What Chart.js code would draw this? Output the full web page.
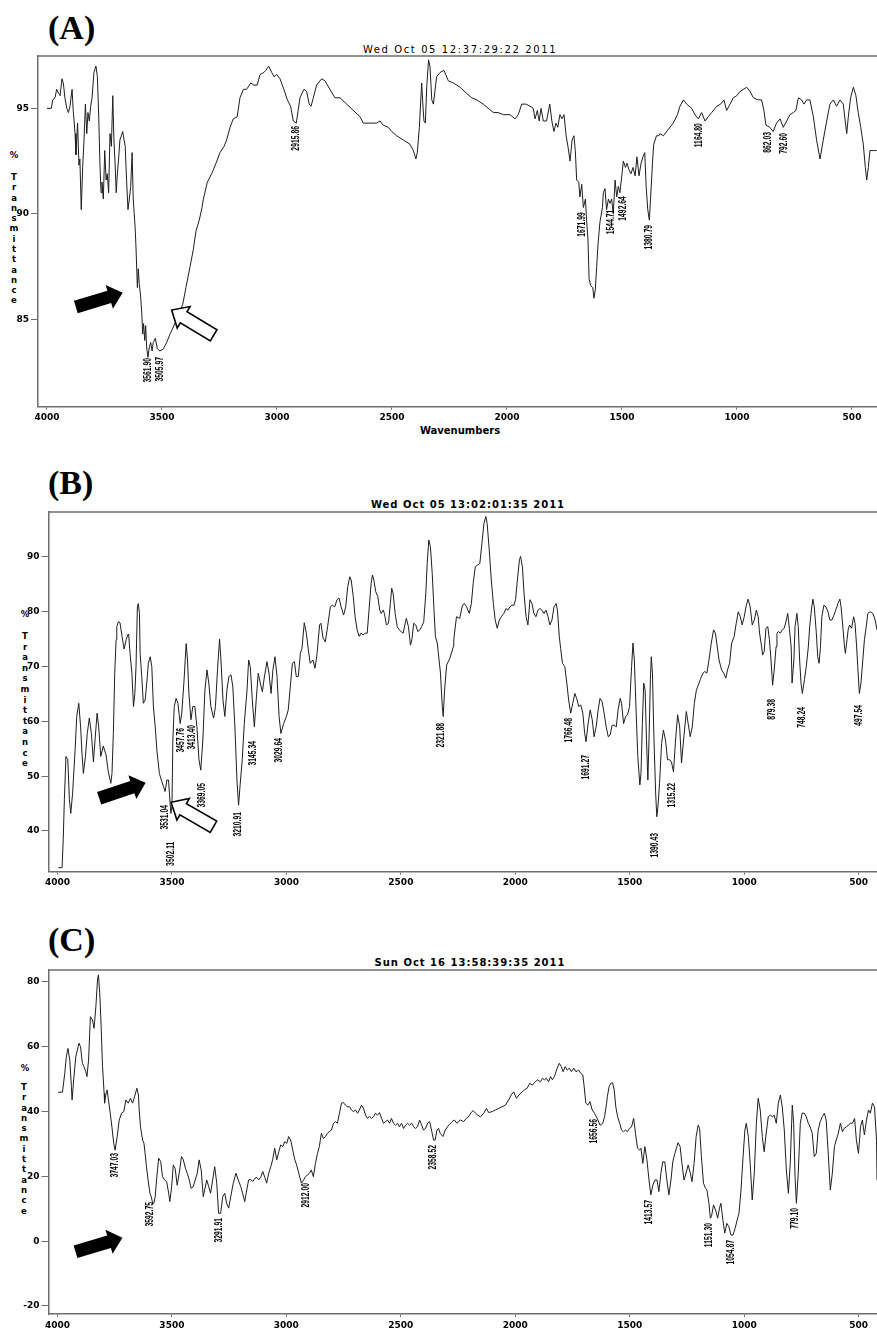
<!DOCTYPE html>
<html><head><meta charset="utf-8">
<script src="https://cdn.jsdelivr.net/npm/chart.js@4.4.1/dist/chart.umd.min.js"></script>
<style>
html,body{margin:0;padding:0;background:#fff;}
body{width:877px;height:1331px;position:relative;overflow:hidden;}
canvas{position:absolute;left:0;}
.plab{position:absolute;font-family:"Liberation Serif","Times New Roman",serif;font-weight:bold;font-size:34px;line-height:34px;color:#000;white-space:nowrap;}
.title{position:absolute;width:400px;text-align:center;font-family:"DejaVu Sans",Verdana,sans-serif;font-weight:bold;font-size:10px;line-height:10px;letter-spacing:1px;color:#000;white-space:nowrap;}
.xlab{position:absolute;width:200px;text-align:center;font-family:"DejaVu Sans",Verdana,sans-serif;font-weight:bold;font-size:10px;line-height:10px;color:#000;}
.ylab{position:absolute;width:12px;text-align:center;font-family:"DejaVu Sans",Verdana,sans-serif;font-weight:bold;font-size:8.5px;color:#000;}
</style></head>
<body>
<div class="plab" style="left:48px;top:11px;">(A)</div>
<div class="title" style="left:260px;top:45px;font-weight:normal;letter-spacing:1.6px;">Wed Oct 05 12:37:29:22 2011</div>
<div class="ylab" style="left:8px;top:150px;line-height:10px;">%</div>
<div class="ylab" style="left:8px;top:172px;line-height:10.28px;">T<br>r<br>a<br>n<br>s<br>m<br>i<br>t<br>t<br>a<br>n<br>c<br>e</div>
<div class="xlab" style="left:360px;top:426px;">Wavenumbers</div>
<canvas id="cA" width="877" height="445" style="top:0px"></canvas>

<div class="plab" style="left:48px;top:466px;">(B)</div>
<div class="title" style="left:268px;top:500px;">Wed Oct 05 13:02:01:35 2011</div>
<div class="ylab" style="left:19px;top:609px;line-height:10px;">%</div>
<div class="ylab" style="left:19px;top:631px;line-height:10.6px;">T<br>r<br>a<br>n<br>s<br>m<br>i<br>t<br>t<br>a<br>n<br>c<br>e</div>
<canvas id="cB" width="877" height="450" style="top:445px"></canvas>

<div class="plab" style="left:48px;top:923px;">(C)</div>
<div class="title" style="left:270px;top:958px;">Sun Oct 16 13:58:39:35 2011</div>
<div class="ylab" style="left:19px;top:1063px;line-height:10px;">%</div>
<div class="ylab" style="left:18px;top:1082px;line-height:10.3px;">T<br>r<br>a<br>n<br>s<br>m<br>i<br>t<br>t<br>a<br>n<br>c<br>e</div>
<canvas id="cC" width="877" height="436" style="top:895px"></canvas>

<script>
// ---------- tick labels ----------
const ticksX = [4000,3500,3000,2500,2000,1500,1000,500];
const ticksYA = [85,90,95];
const ticksYB = [40,50,60,70,80,90];
const ticksYC = [-20,0,20,40,60,80];

// ---------- spectrum (A) ----------
const wnA = [4000,3981,3975,3965,3958,3949,3943,3935,3929,3922,3914,3907,3900,3891,3886,3878,3874,3867,3861,3857,3851,3845,3839,3833,3827,3822,3816,3810,3804,3796,3787,3781,3775,3770,3765,3761,3755,3749,3743,3738,3732,3726,3720,3714,3709,3704,3699,3694,3688,3683,3677,3671,3665,3660,3654,3648,3642,3636,3630,3625,3619,3617,3613,3607,3603,3599,3593,3588,3584,3580,3575,3571,3567,3561,3555,3549,3543,3538,3529,3520,3509,3494,3480,3465,3448,3429,3410,3396,3378,3364,3352,3338,3326,3320,3303,3284,3265,3248,3230,3219,3204,3190,3173,3161,3146,3132,3114,3100,3086,3074,3057,3048,3036,3023,3013,3001,2987,2970,2955,2941,2929,2916,2908,2900,2883,2871,2860,2852,2842,2828,2806,2791,2770,2748,2726,2697,2668,2639,2625,2596,2567,2552,2538,2516,2501,2480,2451,2422,2407,2396,2390,2381,2371,2367,2361,2355,2349,2341,2335,2327,2320,2306,2291,2274,2255,2233,2204,2175,2153,2132,2103,2059,2038,2016,1987,1965,1951,1936,1917,1900,1886,1878,1868,1860,1852,1842,1828,1814,1805,1796,1787,1779,1770,1761,1752,1743,1735,1726,1717,1709,1703,1697,1688,1683,1675,1668,1659,1654,1648,1643,1636,1627,1622,1616,1610,1604,1596,1585,1581,1574,1567,1559,1552,1545,1538,1530,1523,1516,1509,1501,1494,1485,1478,1470,1461,1452,1443,1435,1426,1417,1409,1401,1395,1388,1381,1376,1373,1367,1362,1350,1340,1335,1320,1299,1277,1259,1248,1233,1219,1197,1183,1168,1154,1139,1125,1110,1088,1071,1057,1045,1030,1016,1001,987,972,958,943,929,907,893,883,874,857,843,828,813,799,784,770,755,744,733,719,709,697,683,668,654,639,625,610,596,581,567,552,538,523,516,506,494,483,473,462,451,442,436,429,422,407,393];
const tA = [95.0,95.0,95.4,95.5,95.9,95.7,95.6,96.4,96.2,95.5,95.0,94.8,95.1,95.9,94.9,93.8,92.8,94.3,92.3,92.6,90.2,92.2,93.5,95.2,93.8,94.8,94.4,95.1,95.5,96.7,97.0,96.5,94.6,92.4,91.0,91.5,90.7,93.0,91.6,91.9,91.0,93.8,93.2,95.6,93.5,92.4,91.0,91.9,92.7,93.5,93.7,93.9,93.5,93.2,91.6,90.2,90.7,91.3,92.9,90.7,89.7,89.4,88.4,86.5,87.4,86.7,86.1,85.3,84.3,84.8,84.0,84.7,83.7,83.2,83.7,83.9,83.5,83.9,84.1,83.6,83.5,83.6,83.9,84.3,84.7,85.2,85.7,86.5,87.5,88.3,89.2,89.7,90.3,90.7,91.5,91.9,92.4,92.9,93.2,93.5,94.1,94.5,94.6,95.5,95.9,95.9,96.2,96.1,96.1,96.6,96.7,96.8,97.0,96.7,96.5,96.6,96.4,95.9,95.4,95.1,94.4,94.3,94.9,95.5,95.9,95.8,95.2,95.1,95.5,96.1,96.4,96.3,95.9,95.5,95.5,95.2,94.9,94.6,94.3,94.3,94.3,94.4,94.2,94.1,93.9,93.7,93.5,93.3,93.0,92.6,92.9,94.1,96.2,95.4,94.4,94.3,96.0,97.3,97.0,95.4,95.2,96.5,96.7,96.8,96.3,96.2,96.0,95.7,95.5,95.4,95.2,94.8,94.8,94.7,94.7,94.5,94.7,95.2,95.2,95.1,95.0,94.5,94.9,94.4,95.0,94.4,94.4,95.2,94.4,93.9,94.3,94.1,94.7,94.5,94.7,93.7,93.2,92.5,93.5,93.7,93.0,91.6,91.5,90.8,91.4,90.3,90.7,89.7,88.8,86.9,86.6,86.5,86.0,86.4,87.5,88.6,89.6,90.3,91.0,91.2,90.2,90.7,90.5,90.7,90.0,91.6,90.8,91.3,91.0,91.8,92.5,92.2,92.4,92.1,91.9,92.2,91.8,92.7,91.8,92.4,92.7,92.9,91.3,90.2,89.7,90.7,91.3,92.5,93.3,93.7,93.7,93.8,93.7,94.0,94.3,94.7,95.1,95.4,95.2,95.0,94.7,94.5,94.8,94.4,94.6,94.8,95.1,95.2,95.4,94.9,95.2,95.5,95.6,95.8,95.9,96.0,95.8,95.5,95.4,95.4,94.9,94.2,94.1,93.9,94.3,94.5,94.1,94.4,94.7,94.8,94.9,95.5,95.4,95.2,95.4,95.4,94.6,93.5,92.6,93.5,94.4,95.2,95.4,95.1,95.4,95.2,93.8,94.6,95.5,96.0,95.6,94.8,94.1,93.3,92.2,91.6,92.2,93.0,93.0,93.0];

// ---------- spectrum (B) ----------
const wnB = [3996,3980,3975,3970,3963,3955,3948,3942,3934,3923,3916,3907,3899,3893,3887,3878,3870,3861,3852,3843,3836,3827,3820,3811,3800,3788,3778,3767,3762,3756,3750,3744,3741,3734,3727,3718,3709,3700,3692,3689,3683,3675,3668,3662,3657,3651,3647,3642,3639,3632,3625,3617,3610,3603,3595,3588,3581,3573,3566,3555,3544,3537,3530,3522,3515,3511,3505,3500,3496,3490,3482,3474,3464,3457,3447,3438,3432,3426,3417,3409,3400,3391,3382,3374,3365,3356,3347,3339,3330,3318,3310,3301,3292,3286,3277,3269,3260,3251,3242,3234,3225,3216,3209,3202,3193,3184,3172,3165,3158,3149,3140,3132,3123,3114,3105,3097,3085,3076,3067,3059,3050,3041,3032,3024,3012,3000,2992,2983,2974,2965,2957,2948,2939,2932,2922,2913,2904,2896,2884,2875,2866,2855,2849,2840,2830,2820,2808,2799,2789,2779,2770,2761,2750,2741,2732,2723,2717,2708,2700,2691,2682,2674,2665,2656,2647,2639,2630,2624,2618,2610,2601,2592,2586,2577,2572,2563,2554,2546,2540,2534,2525,2516,2507,2499,2490,2481,2476,2467,2458,2452,2444,2435,2426,2417,2409,2400,2391,2385,2378,2371,2363,2356,2349,2341,2327,2319,2315,2309,2300,2286,2271,2269,2257,2243,2231,2222,2213,2207,2201,2192,2184,2175,2166,2155,2146,2137,2129,2123,2114,2105,2096,2088,2079,2070,2061,2050,2041,2032,2024,2015,2006,1999,1991,1982,1977,1969,1962,1953,1945,1936,1927,1919,1910,1901,1892,1884,1875,1866,1857,1849,1840,1831,1822,1816,1808,1802,1794,1784,1775,1767,1758,1749,1740,1732,1723,1714,1705,1697,1691,1682,1673,1664,1656,1647,1638,1630,1621,1612,1603,1594,1586,1577,1568,1559,1551,1542,1536,1527,1518,1510,1501,1492,1486,1480,1473,1465,1456,1451,1445,1439,1433,1427,1421,1416,1410,1406,1401,1395,1387,1382,1377,1370,1361,1353,1344,1335,1326,1318,1309,1300,1291,1282,1274,1265,1253,1245,1236,1227,1218,1209,1201,1192,1180,1172,1163,1154,1145,1134,1126,1120,1110,1099,1090,1080,1073,1064,1055,1044,1035,1026,1017,1009,1000,991,983,974,965,956,947,939,933,924,920,913,905,897,890,883,876,869,861,857,851,842,834,825,816,810,803,795,791,783,778,770,764,758,752,746,737,729,720,714,705,700,694,685,679,673,667,661,652,643,634,626,617,608,600,591,582,577,568,562,558,551,546,540,531,522,516,510,504,497,490,482,475,468,460,450,438,428,420];
const tB = [33.3,33.3,38.4,45.7,53.6,53.0,45.7,43.2,46.9,54.8,60.9,63.3,59.0,54.2,50.5,53.6,57.8,60.6,57.8,52.6,56.6,61.5,59.0,53.6,55.5,53.9,50.8,48.7,50.5,57.8,68.8,74.9,77.3,78.2,78.0,75.5,73.2,74.9,75.9,75.8,72.4,68.8,62.7,65.1,70.0,80.9,81.5,79.7,72.4,68.2,63.3,63.9,67.0,70.6,71.8,70.0,62.7,59.0,54.8,50.5,49.0,48.1,47.2,49.3,49.3,46.9,43.2,44.4,56.6,62.7,64.2,63.3,59.6,61.5,67.6,74.2,71.2,65.1,60.3,62.7,62.7,59.0,53.0,51.1,56.6,65.7,69.4,67.0,62.7,60.6,62.7,69.4,75.0,71.2,63.9,60.9,65.7,68.2,68.5,66.3,59.0,49.3,44.7,48.5,53.0,59.6,65.7,71.2,70.0,63.9,59.0,63.9,68.8,67.0,65.4,67.9,70.9,68.8,65.1,69.4,71.8,68.2,60.9,57.8,59.6,60.9,62.1,66.3,70.6,70.9,68.2,68.2,72.4,73.3,78.0,76.1,73.0,70.6,71.2,69.7,72.4,77.6,77.9,75.2,74.5,77.3,80.9,81.2,80.9,82.2,82.5,80.9,79.4,80.9,84.6,86.4,85.8,82.8,79.1,76.7,75.5,76.1,75.8,76.1,76.1,80.3,85.2,86.7,85.8,83.7,82.8,80.3,79.7,80.3,79.7,77.6,77.9,81.5,84.3,83.4,79.7,77.3,76.7,76.4,76.1,77.9,78.8,77.3,73.9,74.9,77.9,77.6,76.4,76.7,77.3,78.2,83.4,88.8,93.1,91.9,87.0,80.9,75.5,74.3,68.8,62.7,60.9,65.7,70.3,71.5,73.6,74.9,79.1,78.8,81.2,81.5,80.9,80.3,79.7,81.5,85.2,88.2,88.5,88.8,92.5,96.1,97.4,96.1,91.3,85.8,81.5,78.5,77.0,78.5,79.1,79.7,80.6,80.3,80.9,81.2,81.2,82.2,85.8,89.5,90.1,88.2,83.4,79.1,77.6,82.2,81.5,79.7,79.1,80.3,80.6,80.3,79.7,80.3,79.1,77.6,78.5,80.9,81.5,80.3,75.5,73.3,70.6,70.0,67.0,63.9,61.5,63.3,65.1,64.2,62.7,63.0,61.5,57.8,56.3,59.6,62.1,60.3,57.2,59.0,62.1,64.2,63.6,61.5,59.0,57.2,57.5,59.3,59.3,59.0,62.1,64.2,63.3,59.6,60.9,61.2,62.7,70.0,74.3,71.2,62.7,53.6,48.4,50.5,59.6,67.0,65.7,56.6,49.3,56.6,67.6,71.8,68.8,57.8,46.9,42.6,44.4,48.7,56.0,58.4,56.6,53.0,53.0,52.6,50.8,56.6,61.2,59.0,52.4,56.6,61.8,59.6,57.2,59.0,63.3,65.7,66.6,67.6,68.8,69.1,68.8,71.2,74.0,76.7,76.1,74.3,71.2,69.4,68.8,67.9,69.4,70.6,74.3,75.5,77.9,80.0,79.1,77.6,79.1,81.2,82.3,80.9,77.6,78.5,80.3,79.1,76.1,73.6,72.1,72.7,77.0,77.3,74.9,71.2,66.6,69.4,73.6,76.1,76.4,76.1,76.7,77.0,78.5,79.7,77.0,73.6,67.0,71.2,77.3,79.7,77.3,71.2,67.0,65.1,67.6,70.0,73.6,77.3,80.9,82.3,80.9,76.1,71.8,70.6,73.6,79.1,81.2,80.9,80.0,78.5,78.5,79.4,80.3,81.5,82.3,80.9,76.7,73.6,72.4,74.9,76.7,77.6,77.0,79.1,77.9,74.3,70.0,65.1,67.0,71.2,74.9,77.0,79.7,80.0,79.7,78.5,76.7];

// ---------- spectrum (C) ----------
const wnC = [3997,3978,3968,3961,3954,3946,3939,3936,3929,3920,3913,3906,3899,3891,3884,3876,3871,3864,3856,3847,3840,3832,3825,3821,3815,3809,3803,3796,3794,3789,3783,3777,3771,3762,3754,3748,3739,3730,3720,3710,3701,3691,3681,3672,3663,3653,3646,3643,3637,3628,3622,3617,3611,3604,3596,3590,3584,3579,3573,3567,3558,3549,3541,3532,3523,3514,3509,3501,3494,3486,3477,3468,3458,3450,3441,3433,3424,3416,3407,3398,3389,3381,3372,3363,3357,3348,3339,3331,3322,3313,3304,3296,3287,3278,3269,3261,3252,3243,3232,3220,3210,3199,3191,3182,3173,3165,3156,3147,3138,3129,3121,3112,3103,3094,3086,3077,3068,3060,3051,3042,3033,3025,3016,3007,2998,2990,2981,2972,2963,2955,2946,2934,2926,2917,2908,2899,2891,2882,2873,2864,2856,2847,2838,2829,2821,2812,2803,2794,2786,2777,2768,2759,2751,2742,2733,2724,2716,2707,2698,2689,2681,2672,2663,2654,2646,2637,2628,2619,2611,2602,2593,2584,2576,2567,2558,2549,2541,2532,2523,2514,2506,2497,2488,2479,2471,2462,2453,2444,2436,2427,2418,2409,2401,2392,2383,2374,2366,2357,2350,2342,2335,2328,2316,2306,2291,2276,2266,2255,2240,2226,2214,2204,2193,2184,2174,2164,2152,2138,2126,2116,2101,2087,2072,2058,2043,2029,2018,2007,1995,1985,1970,1960,1948,1937,1925,1913,1902,1890,1881,1873,1864,1855,1846,1838,1829,1817,1808,1799,1791,1782,1773,1764,1755,1744,1735,1723,1714,1705,1699,1692,1683,1674,1664,1654,1642,1630,1618,1610,1601,1598,1590,1583,1575,1568,1561,1553,1544,1536,1527,1518,1510,1501,1492,1483,1475,1466,1457,1451,1443,1434,1425,1416,1408,1399,1390,1381,1373,1364,1356,1347,1338,1329,1320,1312,1303,1294,1289,1280,1272,1263,1254,1245,1237,1228,1219,1210,1201,1195,1187,1178,1169,1163,1154,1148,1143,1134,1125,1116,1108,1102,1093,1085,1076,1067,1058,1049,1040,1031,1023,1014,1005,997,991,982,974,965,956,947,939,930,921,913,904,895,886,877,869,860,851,842,834,825,816,807,799,790,784,778,772,764,755,747,738,729,720,712,703,694,685,677,668,659,650,642,633,624,615,606,598,589,580,571,563,554,545,536,527,518,510,501,492,484,475,466,457,449,440,431,422,420];
const tC = [46.0,46.0,51.8,56.9,59.5,55.9,47.7,43.6,49.8,56.9,59.0,61.1,60.0,54.9,53.9,52.3,50.8,55.9,69.3,68.3,65.7,72.4,80.6,82.2,76.5,66.2,53.9,45.6,42.6,45.1,46.7,43.6,40.5,35.3,30.2,28.1,32.3,37.4,39.5,40.0,43.6,42.6,44.1,42.6,44.6,47.2,45.1,40.5,35.3,31.2,30.2,27.1,23.0,18.9,14.8,13.7,11.7,11.7,13.7,18.9,25.6,24.6,19.9,18.9,18.4,14.8,12.2,16.8,23.5,22.5,17.3,21.0,26.1,25.1,22.5,21.0,18.9,16.3,16.8,18.9,21.0,25.1,22.0,13.7,15.8,18.9,16.8,14.8,18.9,23.0,17.9,8.6,8.6,13.7,14.8,11.7,10.2,13.7,17.9,21.0,18.9,16.8,14.8,12.2,15.8,18.9,19.1,18.4,19.4,19.7,18.9,19.7,21.5,19.7,17.9,21.0,23.0,25.1,28.7,25.1,27.6,29.7,29.2,30.7,30.2,32.3,31.2,28.1,25.1,23.5,21.0,17.9,18.7,19.9,20.4,21.0,22.0,19.9,24.0,27.1,29.2,33.3,31.7,32.3,33.3,33.8,34.3,36.4,36.9,36.4,39.5,42.6,42.8,42.0,41.5,41.5,40.5,40.0,40.5,39.5,40.5,42.0,41.0,38.9,37.9,38.6,37.9,38.4,39.5,38.9,39.7,37.9,36.4,36.9,37.4,36.4,37.9,36.4,35.8,36.4,35.3,36.4,34.8,35.8,36.4,35.8,36.4,35.3,34.8,35.3,37.4,35.8,34.3,34.8,36.4,36.9,34.3,31.2,31.2,34.3,34.8,33.3,32.3,34.3,35.8,36.9,37.4,36.4,37.4,36.9,37.9,38.4,39.7,40.3,39.5,38.9,38.4,39.5,41.0,39.7,40.0,40.5,41.0,41.5,42.0,43.6,45.1,46.1,44.1,45.1,46.1,46.7,47.2,48.7,48.2,49.2,49.8,49.2,50.3,49.8,50.3,49.2,50.8,49.8,50.8,53.4,54.9,53.9,52.3,53.9,52.8,53.4,52.3,53.4,52.3,52.8,51.8,51.3,47.7,42.6,42.0,43.1,40.5,39.5,37.9,35.8,36.4,38.4,42.6,44.6,47.7,48.7,48.9,46.7,41.5,38.4,36.4,34.3,33.8,34.3,33.8,34.8,35.3,37.9,33.3,28.7,28.1,28.7,24.0,29.2,25.1,18.9,14.3,17.3,18.9,18.9,15.3,20.9,24.5,24.5,18.9,14.3,18.9,24.5,27.1,29.2,30.4,29.2,24.0,18.9,21.0,23.5,21.5,18.4,24.0,32.3,35.8,34.8,26.1,17.9,16.3,15.8,11.7,7.1,7.6,11.2,9.6,7.1,10.2,11.7,6.5,2.5,5.5,4.5,1.9,1.9,3.9,6.5,8.6,15.8,26.1,34.3,36.4,32.3,24.0,12.7,21.0,36.4,44.1,40.5,32.3,27.6,33.3,38.4,38.9,38.4,38.9,36.4,42.6,45.1,41.5,34.3,22.0,14.8,24.0,42.0,36.4,19.9,11.7,21.0,36.4,39.5,39.5,38.4,36.4,35.3,33.3,26.1,27.1,34.3,36.9,38.4,39.5,37.4,27.1,15.8,21.0,29.2,31.2,33.3,36.4,33.8,34.8,35.3,35.8,36.4,36.4,37.9,31.2,27.1,35.3,37.4,32.8,37.4,40.5,39.5,42.6,41.5,31.2,18.9];

// ---------- peak annotations ----------
const peaksA = ["3561.90","3505.97","2915.86","1671.99","1544.71","1492.64","1380.79","1164.80","862.03","792.60"];
const peakTopA = [83.17,83.22,94.16,90.08,90.2,90.84,89.47,94.30,93.88,93.83];
const peaksB = ["3531.04","3502.11","3457.76","3413.40","3369.05","3210.91","3145.34","3029.64","2321.88","1766.48","1691.27","1390.43","1315.22","879.38","748.24","497.54"];
const peakTopB = [44.74,38.05,58.80,59.34,48.76,43.47,56.42,56.97,59.71,60.62,53.87,39.64,48.76,64.09,62.63,62.99];
const peaksC = ["3747.03","3592.75","3291.91","2912.00","2358.52","1656.56","1413.57","1151.30","1054.87","779.10"];
const peakTopC = [27.22,12.10,7.16,17.96,29.69,37.72,12.72,5.62,0.37,10.25];

// arrow anchors (tip position in data units, direction in degrees)
const arrowsA = [{wn:3671,t:86.26,angle:-17,filled:true},{wn:3458,t:85.44,angle:-149,filled:false}];
const arrowsB = [{wn:3615,t:48.81,angle:-18.5,filled:true},{wn:3504,t:45.24,angle:-150,filled:false}];
const arrowsC = [{wn:3716,t:1.08,angle:-16.6,filled:true}];

const axisColor = '#6e6e6e';
const tickFont = {family:'"DejaVu Sans", Verdana, sans-serif', size:9, weight:'bold'};

const decor = {
  id:'decor',
  afterDatasetsDraw(chart, args, opts){
    const ctx = chart.ctx, ca = chart.chartArea, sx = chart.scales.x, sy = chart.scales.y;
    ctx.save();
    ctx.strokeStyle = axisColor; ctx.lineWidth = 1.5;
    ctx.beginPath(); ctx.moveTo(ca.left, ca.top); ctx.lineTo(ca.right, ca.top); ctx.stroke();
    ctx.fillStyle = '#000';
    ctx.font = 'bold 10px "Liberation Sans", Arial, sans-serif';
    ctx.textAlign = 'right'; ctx.textBaseline = 'middle';
    (opts.labels||[]).forEach((lab,i)=>{
      const px = sx.getPixelForValue(parseFloat(lab));
      const py = sy.getPixelForValue(opts.tops[i]);
      ctx.save(); ctx.translate(px,py); ctx.rotate(-Math.PI/2); ctx.scale(0.68,1);
      ctx.fillText(lab,0,0); ctx.restore();
    });
    const L=49, h=14, w=12.5, s=6.5;
    (opts.arrows||[]).forEach(a=>{
      const px = sx.getPixelForValue(a.wn), py = sy.getPixelForValue(a.t);
      ctx.save(); ctx.translate(px,py); ctx.rotate(a.angle*Math.PI/180);
      ctx.beginPath(); ctx.moveTo(0,0); ctx.lineTo(-h,-w); ctx.lineTo(-h,-s); ctx.lineTo(-L,-s);
      ctx.lineTo(-L,s); ctx.lineTo(-h,s); ctx.lineTo(-h,w); ctx.closePath();
      if (a.filled){ ctx.fillStyle='#000'; ctx.fill(); }
      else { ctx.fillStyle='#fff'; ctx.fill(); ctx.strokeStyle='#000'; ctx.lineWidth=1.6; ctx.lineJoin='miter'; ctx.stroke(); }
      ctx.restore();
    });
    ctx.restore();
  }
};

function makeChart(id, o){
  const pts = o.wn.map((v,i)=>({x:v, y:o.t[i]}));
  return new Chart(document.getElementById(id), {
    type:'line',
    data:{datasets:[{data:pts, borderColor:'#1e1e1e', borderWidth:1, pointRadius:0, tension:0, fill:false}]},
    options:{
      responsive:false, animation:false, events:[],
      layout:{padding:{top:o.top,left:0,right:0,bottom:0}},
      plugins:{legend:{display:false}, tooltip:{enabled:false}, title:{display:false},
        decor:{labels:o.labels, tops:o.tops, arrows:o.arrows}},
      scales:{
        x:{type:'linear', reverse:true, min:o.xMin, max:o.xMax,
          afterBuildTicks:sc=>{sc.ticks = ticksX.map(v=>({value:v}));},
          afterFit:sc=>{sc.height = o.xH;},
          grid:{display:true, drawOnChartArea:false, drawTicks:true, tickLength:3, color:axisColor, lineWidth:1},
          border:{display:true, color:axisColor, width:1.5},
          ticks:{font:tickFont, color:'#000', padding:3, maxRotation:0, autoSkip:false, callback:v=>String(v)}},
        y:{type:'linear', min:o.yMin, max:o.yMax,
          afterBuildTicks:sc=>{sc.ticks = o.yTicks.map(v=>({value:v}));},
          afterFit:sc=>{sc.width = o.left;},
          grid:{display:true, drawOnChartArea:false, drawTicks:true, tickLength:7, color:axisColor, lineWidth:1},
          border:{display:true, color:axisColor, width:1.5},
          ticks:{font:tickFont, color:'#000', padding:2, callback:v=>String(v)}}
      }
    },
    plugins:[decor]
  });
}

makeChart('cA',{wn:wnA,t:tA,top:56,left:38,xH:38.3,xMin:391.3,xMax:4039.1,yMin:80.86,yMax:97.48,yTicks:ticksYA,labels:peaksA,tops:peakTopA,arrows:arrowsA});
makeChart('cB',{wn:wnB,t:tB,top:67,left:48.5,xH:23.3,xMin:420,xMax:4039.3,yMin:32.57,yMax:98.21,yTicks:ticksYB,labels:peaksB,tops:peakTopB,arrows:arrowsB});
makeChart('cC',{wn:wnC,t:tC,top:75,left:48.5,xH:17,xMin:420,xMax:4039,yMin:-22.47,yMax:83.7,yTicks:ticksYC,labels:peaksC,tops:peakTopC,arrows:arrowsC});
</script>
</body></html>
